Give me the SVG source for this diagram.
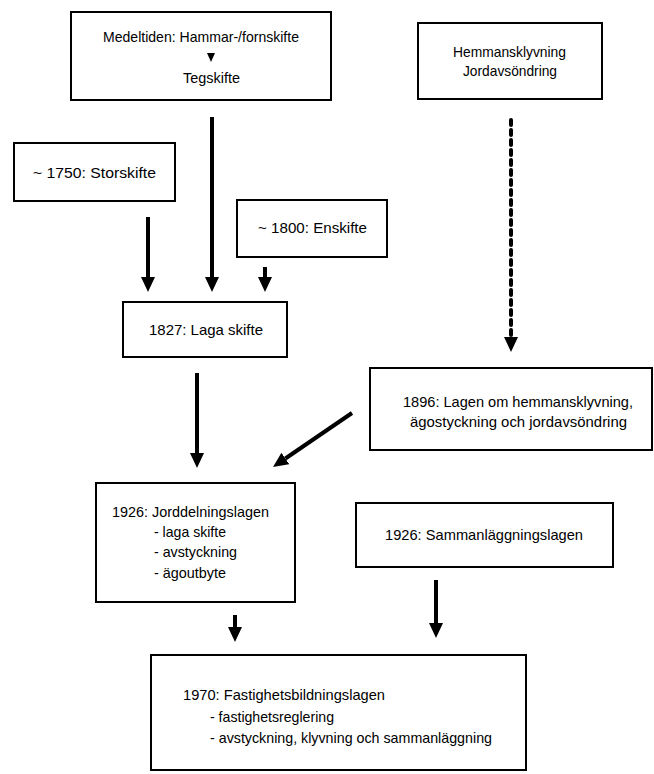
<svg xmlns="http://www.w3.org/2000/svg" width="654" height="774" viewBox="0 0 654 774">
<style>
.box{fill:#fff;stroke:#000;stroke-width:2}
text{font-family:"Liberation Sans",Arial,sans-serif;font-size:15px;fill:#000}
.arr{stroke:#000;stroke-width:4;fill:none;marker-end:url(#ah)}
.dash{stroke-dasharray:5 5;stroke-linecap:round}
</style>
<defs>
<marker id="ah" markerUnits="userSpaceOnUse" markerWidth="15" markerHeight="14" refX="0" refY="7" orient="auto">
<path d="M0,0 L15,7 L0,14 z" fill="#000"/>
</marker>
</defs>
<rect width="654" height="774" fill="#fff"/>
<g id="n1">
<rect class="box" x="71" y="12" width="260" height="88"/>
<text x="103" y="42" textLength="196" lengthAdjust="spacingAndGlyphs">Medeltiden: Hammar-/fornskifte</text>
<path d="M207,53 L215,53 L211,62 z" fill="#000"/>
<text x="183" y="83" textLength="57" lengthAdjust="spacingAndGlyphs">Tegskifte</text>
</g>
<g id="n2">
<rect class="box" x="418" y="23" width="184" height="76"/>
<text x="453" y="57" textLength="113" lengthAdjust="spacingAndGlyphs">Hemmansklyvning</text>
<text x="463" y="76" textLength="94" lengthAdjust="spacingAndGlyphs">Jordavsöndring</text>
</g>
<g id="n3">
<rect class="box" x="14" y="143" width="161" height="58"/>
<text x="33" y="178" textLength="123" lengthAdjust="spacingAndGlyphs">~ 1750: Storskifte</text>
</g>
<g id="n4">
<rect class="box" x="237" y="200" width="150" height="57"/>
<text x="258" y="233" textLength="109" lengthAdjust="spacingAndGlyphs">~ 1800: Enskifte</text>
</g>
<g id="n5">
<rect class="box" x="123" y="302" width="164" height="55"/>
<text x="149" y="335" textLength="114" lengthAdjust="spacingAndGlyphs">1827: Laga skifte</text>
</g>
<g id="n6">
<rect class="box" x="370" y="368" width="282" height="82"/>
<text x="403" y="407" textLength="230" lengthAdjust="spacingAndGlyphs">1896: Lagen om hemmansklyvning,</text>
<text x="410" y="427" textLength="217" lengthAdjust="spacingAndGlyphs">ägostyckning och jordavsöndring</text>
</g>
<g id="n7">
<rect class="box" x="96" y="483" width="199" height="119"/>
<text x="112" y="517" textLength="157" lengthAdjust="spacingAndGlyphs">1926: Jorddelningslagen</text>
<text x="154" y="537" textLength="72" lengthAdjust="spacingAndGlyphs">- laga skifte</text>
<text x="154" y="557" textLength="83" lengthAdjust="spacingAndGlyphs">- avstyckning</text>
<text x="154" y="578" textLength="72" lengthAdjust="spacingAndGlyphs">- ägoutbyte</text>
</g>
<g id="n8">
<rect class="box" x="356" y="503" width="257" height="64"/>
<text x="385" y="540" textLength="198" lengthAdjust="spacingAndGlyphs">1926: Sammanläggningslagen</text>
</g>
<g id="n9">
<rect class="box" x="151" y="655" width="375" height="115"/>
<text x="183" y="700" textLength="202" lengthAdjust="spacingAndGlyphs">1970: Fastighetsbildningslagen</text>
<text x="210" y="722" textLength="124" lengthAdjust="spacingAndGlyphs">- fastighetsreglering</text>
<text x="210" y="743" textLength="282" lengthAdjust="spacingAndGlyphs">- avstyckning, klyvning och sammanläggning</text>
</g>
<g id="connectors">
<line class="arr" x1="148" y1="217" x2="148" y2="277"/>
<line class="arr" x1="212" y1="117" x2="212" y2="277"/>
<line class="arr" x1="265" y1="267" x2="265" y2="277"/>
<line class="arr dash" x1="511" y1="120" x2="511" y2="337"/>
<line class="arr" x1="197" y1="373" x2="197" y2="453"/>
<line class="arr" x1="352" y1="413" x2="285.4" y2="458.5"/>
<line class="arr" x1="235" y1="615" x2="235" y2="627"/>
<line class="arr" x1="436" y1="580" x2="436" y2="623"/>
</g>
</svg>
